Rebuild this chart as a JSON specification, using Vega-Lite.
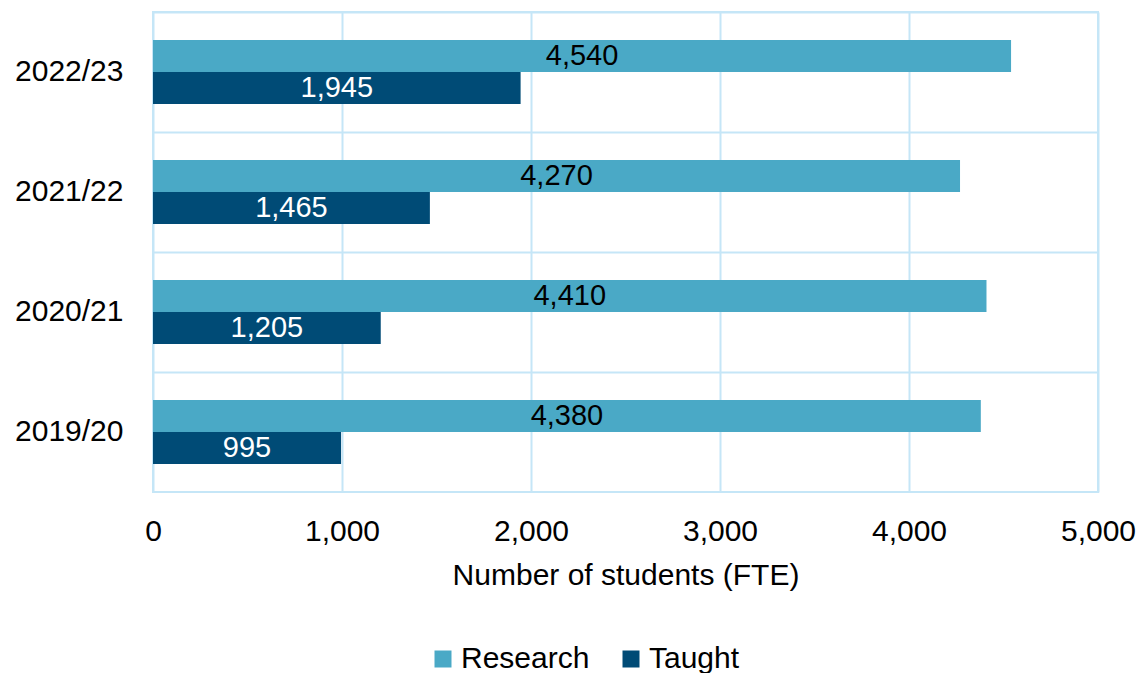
{
  "$schema": "https://vega.github.io/schema/vega-lite/v6.json",
  "width": 945,
  "height": 480,
  "autosize": "none",
  "padding": {"left": 153, "top": 12, "right": 42, "bottom": 181},
  "config": {
    "font": "Liberation Sans",
    "view": {"stroke": "#C5E6F7", "strokeWidth": 2}
  },
  "data": {
    "values": [
      {"year": "2022/23", "type": "Research", "value": 4540},
      {"year": "2022/23", "type": "Taught", "value": 1945},
      {"year": "2021/22", "type": "Research", "value": 4270},
      {"year": "2021/22", "type": "Taught", "value": 1465},
      {"year": "2020/21", "type": "Research", "value": 4410},
      {"year": "2020/21", "type": "Taught", "value": 1205},
      {"year": "2019/20", "type": "Research", "value": 4380},
      {"year": "2019/20", "type": "Taught", "value": 995}
    ]
  },
  "encoding": {
    "y": {
      "field": "year",
      "type": "nominal",
      "sort": ["2022/23", "2021/22", "2020/21", "2019/20"],
      "scale": {"paddingInner": 0, "paddingOuter": 0},
      "axis": {
        "title": null,
        "domain": false,
        "ticks": false,
        "grid": true,
        "bandPosition": 0,
        "gridColor": "#C5E6F7",
        "gridWidth": 2,
        "gridOpacity": 1,
        "labelFontSize": 30,
        "labelColor": "#000000",
        "labelPadding": 30
      }
    },
    "yOffset": {
      "field": "type",
      "type": "nominal",
      "sort": ["Research", "Taught"],
      "scale": {"paddingInner": 0, "paddingOuter": 0.875}
    }
  },
  "layer": [
    {
      "mark": {"type": "bar"},
      "encoding": {
        "x": {
          "field": "value",
          "type": "quantitative",
          "scale": {"domain": [0, 5000], "nice": false},
          "axis": {
            "values": [0, 1000, 2000, 3000, 4000, 5000],
            "format": ",.0f",
            "title": "Number of students (FTE)",
            "titleFontSize": 30,
            "titleFontWeight": "normal",
            "titleColor": "#000000",
            "titlePadding": 14,
            "domain": false,
            "ticks": false,
            "grid": true,
            "gridColor": "#C5E6F7",
            "gridWidth": 2,
            "gridOpacity": 1,
            "labelFontSize": 30,
            "labelColor": "#000000",
            "labelPadding": 24,
            "labelFlush": false
          }
        },
        "color": {
          "field": "type",
          "type": "nominal",
          "scale": {"domain": ["Research", "Taught"], "range": ["#4AA9C6", "#004B76"]},
          "legend": {
            "title": null,
            "orient": "none",
            "legendX": 275,
            "legendY": 632,
            "direction": "horizontal",
            "labelFontSize": 30,
            "labelColor": "#000000",
            "labelOffset": 3,
            "symbolType": "square",
            "symbolSize": 289,
            "symbolStrokeWidth": 0,
            "columnPadding": 26
          }
        }
      }
    },
    {
      "transform": [{"calculate": "datum.value / 2", "as": "mid"}],
      "mark": {"type": "text", "fontSize": 29, "baseline": "middle", "align": "center"},
      "encoding": {
        "x": {"field": "mid", "type": "quantitative"},
        "text": {"field": "value", "type": "quantitative", "format": ",.0f"},
        "color": {
          "condition": {"test": "datum.type === 'Taught'", "value": "#FFFFFF"},
          "value": "#000000"
        }
      }
    }
  ]
}
